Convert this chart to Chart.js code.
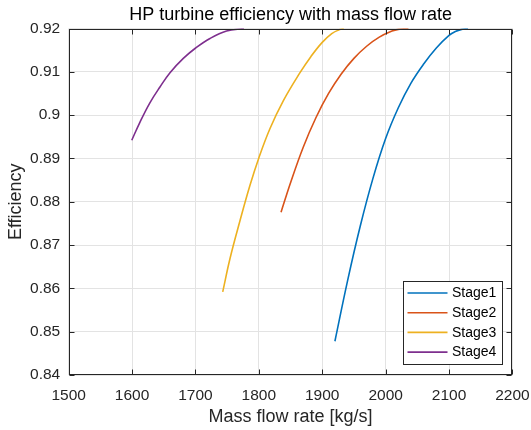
<!DOCTYPE html>
<html>
<head>
<meta charset="utf-8">
<script src="https://cdn.jsdelivr.net/npm/chart.js@4.4.1/dist/chart.umd.min.js"></script>
<style>
  html, body { margin: 0; padding: 0; background: #fff; }
  #wrap { width: 531px; height: 430px; }
</style>
</head>
<body>
<div id="wrap"><canvas id="c" width="531" height="430"></canvas></div>
<script>
// values
const stage1X = [1920, 1940, 1960, 1980, 2000, 2020, 2040, 2060, 2080, 2100, 2110, 2120, 2130];
const stage1Y = [0.8478, 0.8618, 0.8744, 0.8854, 0.8946, 0.9017, 0.9074, 0.9118, 0.9155, 0.9184, 0.9193, 0.9198, 0.92];

const stage2X = [1835, 1850, 1870, 1890, 1910, 1930, 1950, 1970, 1990, 2010, 2020, 2036];
const stage2Y = [0.8776, 0.8844, 0.8926, 0.8994, 0.905, 0.9095, 0.9131, 0.9159, 0.918, 0.9194, 0.9198, 0.92];

const stage3X = [1743, 1754.5, 1770.2, 1786, 1799.7, 1817.6, 1838.5, 1864.9, 1882, 1900, 1915, 1925, 1934];
const stage3Y = [0.8592, 0.8669, 0.8756, 0.8838, 0.89, 0.8969, 0.9033, 0.9098, 0.9135, 0.9168, 0.9188, 0.9196, 0.92];

const stage4X = [1599.5, 1612.5, 1628.3, 1644, 1659.8, 1680.8, 1700.3, 1722.9, 1749, 1776.5];
const stage4Y = [0.8942, 0.8984, 0.9029, 0.9065, 0.9098, 0.9131, 0.9155, 0.9177, 0.9194, 0.92];

const seriesNames = ["Stage1", "Stage2", "Stage3", "Stage4"];
const xTicks = [1500, 1600, 1700, 1800, 1900, 2000, 2100, 2200];
const yTicks = [0.84, 0.85, 0.86, 0.87, 0.88, 0.89, 0.9, 0.91, 0.92];
const yTickLabels = ["0.84", "0.85", "0.86", "0.87", "0.88", "0.89", "0.9", "0.91", "0.92"];
const titleText = "HP turbine efficiency with mass flow rate";

const colors = ["#0072BD", "#D95319", "#EDB120", "#7E2F8E"];
const axisColor = "#262626";
const fontFamily = "'Liberation Sans', Arial, sans-serif";

function pts(xs, ys) {
  return xs.map((x, i) => ({ x: x, y: ys[i] }));
}

const allX = [stage1X, stage2X, stage3X, stage4X];
const allY = [stage1Y, stage2Y, stage3Y, stage4Y];

// title centred over the axes, not the whole canvas
const titlePlugin = {
  id: "axesTitle",
  afterDraw(chart) {
    const { ctx, chartArea: a } = chart;
    ctx.save();
    ctx.font = "18px " + fontFamily;
    ctx.fillStyle = "#000";
    ctx.textAlign = "center";
    ctx.textBaseline = "alphabetic";
    ctx.fillText(titleText, (a.left + a.right) / 2, 20);
    ctx.restore();
  }
};

// box round the axes with inward ticks, like matlab
const boxPlugin = {
  id: "box",
  afterDatasetsDraw(chart) {
    const { ctx, chartArea: a, scales } = chart;
    const L = Math.round(a.left) + 0.5, R = Math.round(a.right) - 0.5;
    const T = Math.round(a.top) + 0.5, B = Math.round(a.bottom) - 0.5;
    ctx.save();
    ctx.strokeStyle = axisColor;
    ctx.lineWidth = 1;
    ctx.beginPath();
    scales.x.ticks.forEach(t => {
      const px = Math.round(scales.x.getPixelForValue(t.value)) + 0.5;
      ctx.moveTo(px, B); ctx.lineTo(px, B - 5);
      ctx.moveTo(px, T); ctx.lineTo(px, T + 5);
    });
    scales.y.ticks.forEach(t => {
      const py = Math.round(scales.y.getPixelForValue(t.value)) + 0.5;
      ctx.moveTo(L, py); ctx.lineTo(L + 5, py);
      ctx.moveTo(R, py); ctx.lineTo(R - 5, py);
    });
    ctx.stroke();
    ctx.strokeRect(L, T, R - L, B - T);
    ctx.restore();
  }
};

// legend in the lower right corner of the axes
const legendPlugin = {
  id: "innerLegend",
  afterDraw(chart) {
    const { ctx, chartArea: a } = chart;
    const w = 99, h = 83;
    const x0 = Math.round(a.right - 10 - w) + 0.5;
    const y0 = Math.round(a.bottom - 11 - h) + 0.5;
    ctx.save();
    ctx.fillStyle = "#fff";
    ctx.fillRect(x0, y0, w, h);
    ctx.strokeStyle = axisColor;
    ctx.lineWidth = 1;
    ctx.strokeRect(x0, y0, w, h);
    ctx.font = "14px " + fontFamily;
    ctx.textBaseline = "middle";
    ctx.fillStyle = "#000";
    chart.data.datasets.forEach((ds, i) => {
      const cy = y0 + 11.5 + i * 19.7;
      ctx.strokeStyle = ds.borderColor;
      ctx.lineWidth = 1.6;
      ctx.beginPath();
      ctx.moveTo(x0 + 4, cy);
      ctx.lineTo(x0 + 44, cy);
      ctx.stroke();
      ctx.fillText(ds.label, x0 + 48.5, cy + 0.5);
    });
    ctx.restore();
  }
};

new Chart(document.getElementById("c"), {
  type: "line",
  data: {
    datasets: seriesNames.map((name, i) => ({
      label: name,
      data: pts(allX[i], allY[i]),
      borderColor: colors[i],
      backgroundColor: colors[i],
      borderWidth: 1.6,
      pointRadius: 0,
      fill: false,
      tension: 0.4
    }))
  },
  options: {
    responsive: false,
    animation: false,
    layout: { padding: { left: 0, right: 18.6, top: 28.5, bottom: 0 } },
    plugins: {
      legend: { display: false },
      tooltip: { enabled: false },
      title: { display: false }
    },
    scales: {
      x: {
        type: "linear",
        min: 1500,
        max: 2200,
        afterBuildTicks(scale) { scale.ticks = xTicks.map(v => ({ value: v })); },
        afterFit(scale) {
          scale.height = 55;
          // labels may hang over the edges, the layout padding handles that
          scale.paddingLeft = 0;
          scale.paddingRight = 0;
        },
        grid: { color: "#e3e3e3", drawTicks: false },
        border: { display: false },
        ticks: {
          color: axisColor,
          padding: 11.5,
          maxRotation: 0,
          font: { family: fontFamily, size: 15.5 },
          callback: v => String(v)
        },
        title: {
          display: true,
          text: "Mass flow rate [kg/s]",
          color: axisColor,
          font: { family: fontFamily, size: 18 },
          padding: { top: 0, bottom: 2 }
        }
      },
      y: {
        type: "linear",
        min: 0.84,
        max: 0.92,
        afterBuildTicks(scale) { scale.ticks = yTicks.map(v => ({ value: v })); },
        afterFit(scale) { scale.width = 68.7; },
        grid: { color: "#e3e3e3", drawTicks: false },
        border: { display: false },
        ticks: {
          color: axisColor,
          padding: 8.5,
          font: { family: fontFamily, size: 15.5 },
          callback: (v, i) => yTickLabels[i]
        },
        title: {
          display: true,
          text: "Efficiency",
          color: axisColor,
          font: { family: fontFamily, size: 18 },
          padding: { top: 5, bottom: 0 }
        }
      }
    }
  },
  plugins: [boxPlugin, legendPlugin, titlePlugin]
});
</script>
</body>
</html>
